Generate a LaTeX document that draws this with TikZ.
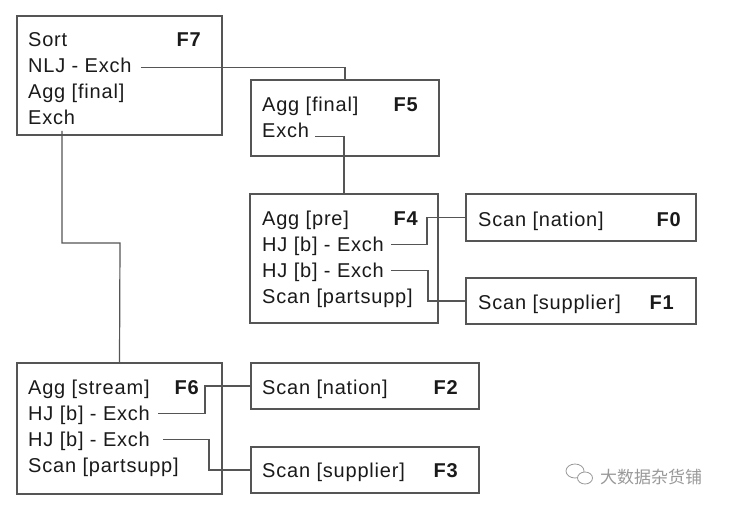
\documentclass[tikz,border=0pt]{standalone}
\usepackage{fontspec}
\setmainfont{Liberation Sans}[LetterSpace=4]
\newfontfamily\cjk{Noto Sans CJK SC}
\usetikzlibrary{calc}
\definecolor{boxc}{HTML}{555555}
\definecolor{txtc}{HTML}{1A1A1A}
\definecolor{wmc}{HTML}{999999}
\begin{document}
\begin{tikzpicture}[x=1pt,y=-1pt,
 box/.style={draw=boxc, line width=1.3pt, fill=white, anchor=north west, inner sep=0pt, outer sep=0pt},
 txt/.style={anchor=base west, inner sep=0pt, text height=13.5pt, text depth=0pt, font=\fontsize{20}{22}\selectfont, text=txtc},
 lbl/.style={anchor=base east, inner sep=0pt, font=\fontsize{20}{22}\selectfont\bfseries, text=txtc},
 link/.style={draw=boxc, line width=1.2pt}]
\useasboundingbox (0,0) rectangle (731,508);
% boxes
\node[box, minimum width=205, minimum height=119] (F7) at (17,16) {};
\node[box, minimum width=188, minimum height=76] (F5) at (251,80) {};
\node[box, minimum width=188, minimum height=129] (F4) at (250,194) {};
\node[box, minimum width=230, minimum height=47] (F0) at (466,194) {};
\node[box, minimum width=230, minimum height=46] (F1) at (466,278) {};
\node[box, minimum width=205, minimum height=131] (F6) at (17,363) {};
\node[box, minimum width=228, minimum height=46] (F2) at (251,363) {};
\node[box, minimum width=228, minimum height=46] (F3) at (251,447) {};
% F7
\node[txt] (f7a) at (28,47) {Sort};
\node[txt] (f7b) at (28,73) {NLJ - Exch};
\node[txt] (f7c) at (28,99) {Agg [final]};
\node[txt] (f7d) at (28,125) {Exch};
\node[lbl] (f7l) at (201,47) {F7};
% F5
\node[txt] (f5a) at (262,112) {Agg [final]};
\node[txt] (f5b) at (262,138) {Exch};
\node[lbl] (f5l) at (418,112) {F5};
% F4
\node[txt] (f4a) at (262,225) {Agg [pre]};
\node[txt] (f4b) at (262,251) {HJ [b] - Exch};
\node[txt] (f4c) at (262,277) {HJ [b] - Exch};
\node[txt] (f4d) at (262,303) {Scan [partsupp]};
\node[lbl] (f4l) at (418,225) {F4};
% F0, F1
\node[txt] (f0a) at (478,226) {Scan [nation]};
\node[lbl] (f0l) at (681,226) {F0};
\node[txt] (f1a) at (478,309) {Scan [supplier]};
\node[lbl] (f1l) at (674,309) {F1};
% F6
\node[txt] (f6a) at (28,394) {Agg [stream]};
\node[txt] (f6b) at (28,420) {HJ [b] - Exch};
\node[txt] (f6c) at (28,446) {HJ [b] - Exch};
\node[txt] (f6d) at (28,472) {Scan [partsupp]};
\node[lbl] (f6l) at (199,394) {F6};
% F2, F3
\node[txt] (f2a) at (262,394) {Scan [nation]};
\node[lbl] (f2l) at (458,394) {F2};
\node[txt] (f3a) at (262,477) {Scan [supplier]};
\node[lbl] (f3l) at (458,477) {F3};
% connectors
\draw[link] ($(f7b.east)+(9,1)$) -| (F5.north);
\draw[link] ($(f5b.east)+(6,5)$) -| (F4.north);
\coordinate (bend7) at (120,243);
\draw[link] ($(f7d.base west)+(34,6)$) |- (bend7) -- (F6.north);
\draw[link] ($(f4b.east)+(7,0)$) -| ($(F0.west)+(-39,0)$) -- (F0.west);
\draw[link] ($(f4c.east)+(7,0)$) -| ($(F1.west)+(-38,0)$) -- (F1.west);
\draw[link] ($(f6b.east)+(8,0)$) -| ($(F2.west)+(-46,0)$) -- (F2.west);
\draw[link] ($(f6c.east)+(13,0)$) -| ($(F3.west)+(-42,0)$) -- (F3.west);
% watermark
\node[anchor=base west, inner sep=0pt, text=wmc, font=\cjk\fontsize{17}{20}\selectfont] (wm) at (600,483) {大数据杂货铺};
\draw[wmc, line width=0.8pt] (575,471) ellipse (9 and 7);
\draw[wmc, line width=0.8pt, fill=white] (585,478) ellipse (7.5 and 6);
\end{tikzpicture}
\end{document}
